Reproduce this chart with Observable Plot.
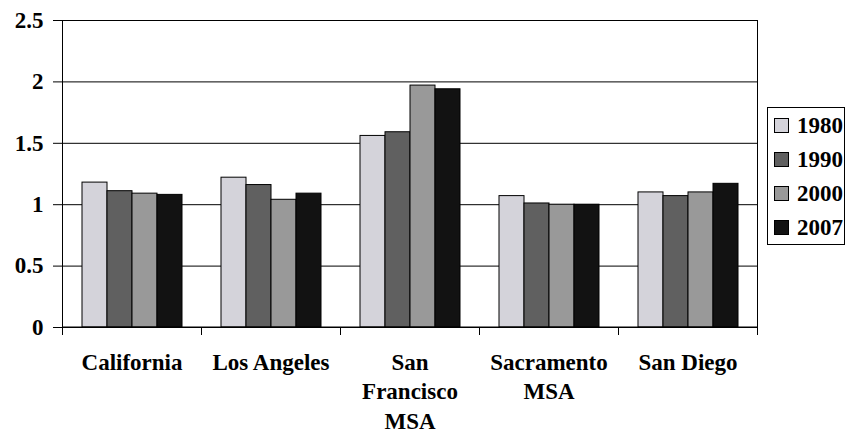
<!DOCTYPE html>
<html>
<head>
<meta charset="utf-8">
<script src="https://cdn.jsdelivr.net/npm/d3@7"></script>
<script src="https://cdn.jsdelivr.net/npm/@observablehq/plot@0.6"></script>
<style>
  html, body { margin: 0; padding: 0; background: #fff; }
  #chart { position: relative; width: 847px; height: 437px; font-family: "Liberation Serif", "Times New Roman", serif; }
  #chart svg { position: absolute; left: 0; top: 0; }
  .legend { position: absolute; left: 767px; top: 107px; width: 78px; border: 1px solid #000; background: #fff; box-sizing: border-box; }
  .legend .row { height: 34px; display: flex; align-items: center; padding-left: 6px; }
  .legend .sw { width: 13px; height: 13px; border: 1px solid #000; margin-right: 8px; }
  .legend .lbl { font-size: 23px; font-weight: bold; line-height: 1; }
</style>
</head>
<body>
<div id="chart"></div>
<script>
// Regions and their display labels (line breaks as drawn under the axis)
const cities = ["California", "Los Angeles", "San Francisco MSA", "Sacramento MSA", "San Diego"];
const cityLabels = ["California", "Los Angeles", "San\nFrancisco\nMSA", "Sacramento\nMSA", "San Diego"];
const years = ["1980", "1990", "2000", "2007"];

// Ratio values per year, in the order of `cities`
const v1980 = [1.18, 1.22, 1.56, 1.07, 1.10];
const v1990 = [1.11, 1.16, 1.59, 1.01, 1.07];
const v2000 = [1.09, 1.04, 1.97, 1.00, 1.10];
const v2007 = [1.08, 1.09, 1.94, 1.00, 1.17];

const yTicks = [0, 0.5, 1, 1.5, 2, 2.5];
const yearColors = ["#d4d3da", "#606060", "#999999", "#121212"];

const series = [v1980, v1990, v2000, v2007];
const rows = [];
cities.forEach((city, i) => {
  years.forEach((year, j) => rows.push({city, year, value: series[j][i]}));
});

const font = {fontSize: 23, fontWeight: "bold", fontFamily: "Liberation Serif, Times New Roman, serif"};

const plot = Plot.plot({
  width: 847,
  height: 437,
  marginLeft: 62,
  marginRight: 90,
  marginTop: 20,
  marginBottom: 110,
  style: {fontFamily: font.fontFamily, color: "#000", background: "transparent"},
  fx: {domain: cities, padding: 0, label: null},
  x: {domain: years, paddingInner: 0, paddingOuter: 0.75, axis: null},
  y: {domain: [0, 2.5], label: null},
  color: {domain: years, range: yearColors},
  marks: [
    Plot.ruleY(yTicks, {stroke: "#000", strokeWidth: 1}),
    Plot.barY(rows, {fx: "city", x: "year", y: "value", fill: "year", stroke: "#000", strokeWidth: 1}),
    Plot.axisY({
      ticks: yTicks, tickSize: 9, tickPadding: 10, label: null,
      tickFormat: (d) => String(d), stroke: "#000", ...font
    }),
    Plot.axisFx({
      anchor: "bottom", tickSize: 0, tickPadding: 22, label: null, lineHeight: 1.27,
      tickFormat: (d) => cityLabels[cities.indexOf(d)], ...font
    })
  ]
});

const chart = document.getElementById("chart");
chart.appendChild(plot);

// Frame sides and category-boundary ticks, placed through the plot's own scales
const fxScale = plot.scale("fx");
const yScale = plot.scale("y");
const fxApply = fxScale.apply ? fxScale.apply : Plot.scale({x: fxScale}).apply;
const yApply = yScale.apply ? yScale.apply : Plot.scale({y: yScale}).apply;
const y0 = yApply(0), yTop = yApply(2.5);
const bounds = cities.map((c) => fxApply(c));
bounds.push(fxApply(cities[cities.length - 1]) + fxScale.bandwidth);

const g = d3.select(plot).append("g").attr("stroke", "#000").attr("stroke-width", 1);
bounds.forEach((bx, i) => {
  const full = i === 0 || i === bounds.length - 1;
  g.append("line")
    .attr("x1", Math.round(bx) + 0.5).attr("x2", Math.round(bx) + 0.5)
    .attr("y1", full ? yTop : y0).attr("y2", y0 + 8);
});
g.append("line")
  .attr("x1", bounds[0]).attr("x2", bounds[bounds.length - 1])
  .attr("y1", y0).attr("y2", y0);

// Legend box at the right
const legend = document.createElement("div");
legend.className = "legend";
years.forEach((y, i) => {
  const row = document.createElement("div");
  row.className = "row";
  const sw = document.createElement("span");
  sw.className = "sw";
  sw.style.background = yearColors[i];
  const lbl = document.createElement("span");
  lbl.className = "lbl";
  lbl.textContent = y;
  row.appendChild(sw);
  row.appendChild(lbl);
  legend.appendChild(row);
});
chart.appendChild(legend);
</script>
</body>
</html>
